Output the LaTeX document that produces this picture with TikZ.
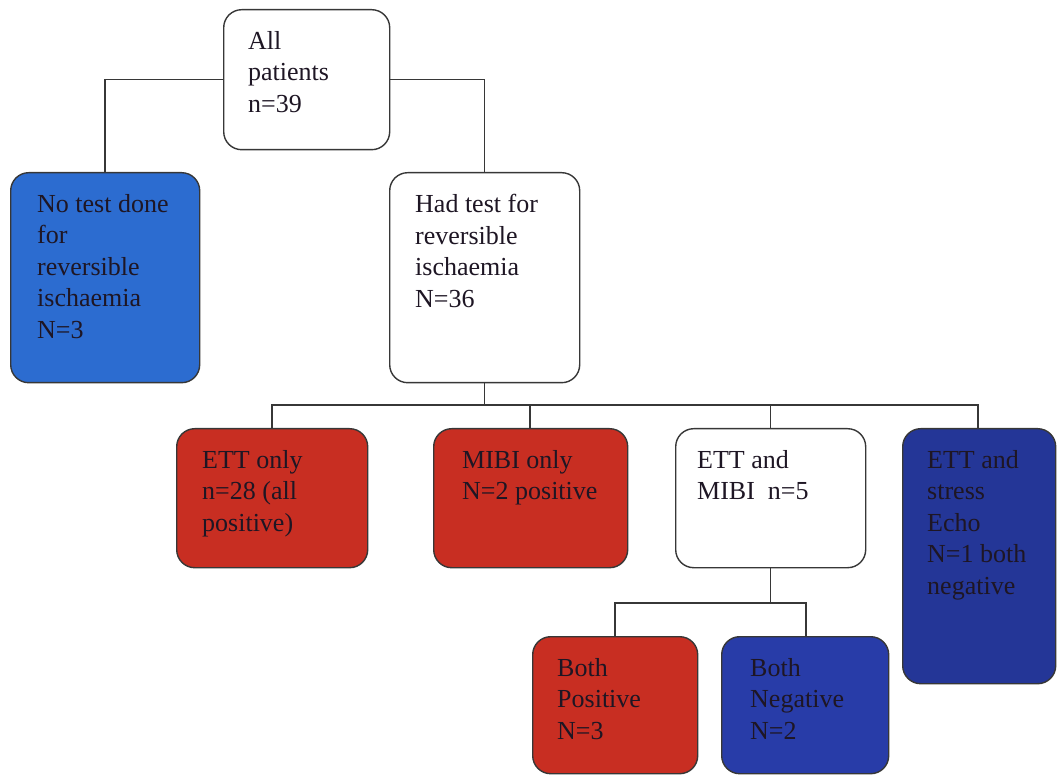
\documentclass[tikz,border=0pt]{standalone}
\usepackage{fontspec}
\setmainfont{Liberation Serif}
\definecolor{lblue}{RGB}{44,108,208}
\definecolor{dblue}{RGB}{40,60,168}
\definecolor{dred}{RGB}{200,46,34}
\definecolor{edge}{RGB}{55,55,55}
\definecolor{ink}{RGB}{30,22,36}
\begin{document}
\begin{tikzpicture}[x=1pt,y=-1pt,
  box/.style={draw=edge,line width=1.4pt,rounded corners=18pt,anchor=north west,inner sep=0pt},
  txt/.style={anchor=north west,inner sep=0pt,align=left,text=ink,font=\fontsize{26}{31.5}\selectfont},
  conn/.style={draw=edge,line width=1.2pt}]
\useasboundingbox (0,0) rectangle (1058,775);
% boxes
\node[box,fill=white,minimum width=166pt,minimum height=140pt] (all) at (223,9) {};
\node[box,fill=lblue,minimum width=189pt,minimum height=210pt] (none) at (10,172) {};
\node[box,fill=white,minimum width=190pt,minimum height=210pt] (had) at (389,172) {};
\node[box,fill=dred,minimum width=191pt,minimum height=139pt] (ett) at (176,428) {};
\node[box,fill=dred,minimum width=194pt,minimum height=139pt] (mibi) at (433,428) {};
\node[box,fill=white,minimum width=190pt,minimum height=139pt] (em) at (675,428) {};
\node[box,fill=dblue!90!black,minimum width=153pt,minimum height=255pt] (es) at (902,428) {};
\node[box,fill=dred,minimum width=165pt,minimum height=137pt] (bp) at (532,636) {};
\node[box,fill=dblue,minimum width=167pt,minimum height=137pt] (bn) at (721,636) {};
% texts
\node[txt] (tall) at ([xshift=25pt,yshift=-22pt]all.north west) {All\\patients\\n=39};
\node[txt] (tnone) at ([xshift=27pt,yshift=-22pt]none.north west) {No test done\\for\\reversible\\ischaemia\\N=3};
\node[txt] (thad) at ([xshift=26pt,yshift=-22pt]had.north west) {Had test for\\reversible\\ischaemia\\N=36};
\node[txt] (tett) at ([xshift=26pt,yshift=-22pt]ett.north west) {ETT only\\n=28 (all\\positive)};
\node[txt] (tmibi) at ([xshift=29pt,yshift=-22pt]mibi.north west) {MIBI only\\N=2 positive};
\node[txt] (tem) at ([xshift=22pt,yshift=-22pt]em.north west) {ETT and\\MIBI\ \ n=5};
\node[txt] (tes) at ([xshift=25pt,yshift=-22pt]es.north west) {ETT and\\stress\\Echo\\N=1 both\\negative};
\node[txt] (tbp) at ([xshift=25pt,yshift=-22pt]bp.north west) {Both\\Positive\\N=3};
\node[txt] (tbn) at ([xshift=29pt,yshift=-22pt]bn.north west) {Both\\Negative\\N=2};
% connectors
\coordinate (j1) at (105,172);
\draw[conn] (all.west) -| (j1);
\draw[conn] (all.east) -| (had.north);
\coordinate (l1) at (272,405);
\coordinate (l2) at (530,405);
\coordinate (l4) at (978,405);
\draw[conn] (had.south) -- (had.south |- l1);
\draw[conn] (ett.north -| l1) -- (l1) -- (l4) -- (es.north -| l4);
\draw[conn] (mibi.north -| l2) -- (l2);
\draw[conn] (em.north) -- (em.north |- l1);
\coordinate (m1) at (615,603);
\coordinate (m2) at (806,603);
\draw[conn] (em.south) -- (em.south |- m1);
\draw[conn] (bp.north -| m1) -- (m1) -- (m2) -- (bn.north -| m2);
\end{tikzpicture}
\end{document}
